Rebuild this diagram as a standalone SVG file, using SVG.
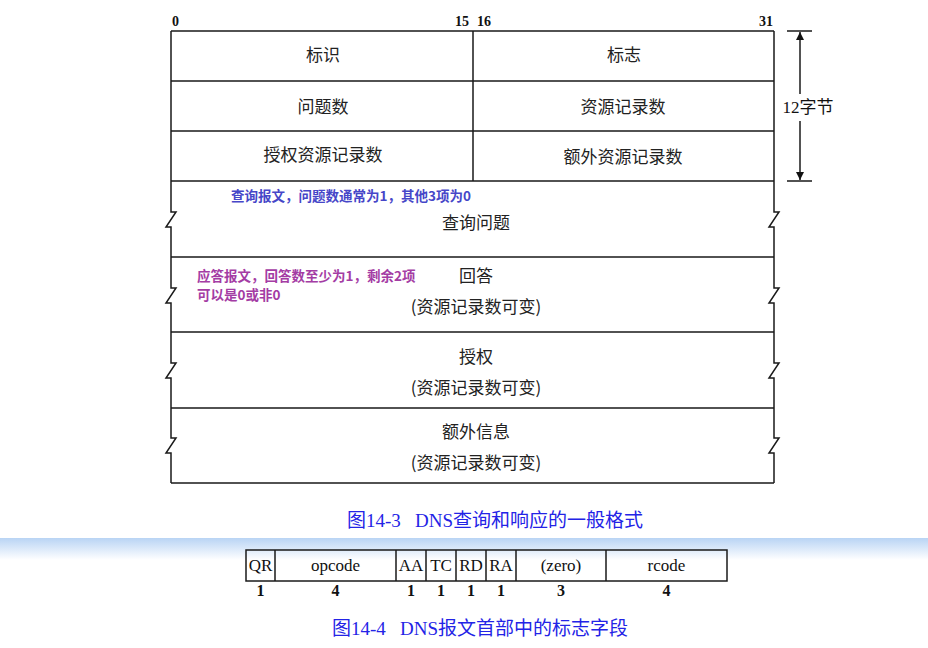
<svg xmlns="http://www.w3.org/2000/svg" width="928" height="648" viewBox="0 0 928 648">
<style>
.ln{stroke:#1a1a1a;stroke-width:1.5;fill:none}
.cn{font-family:"Noto Sans CJK SC","Noto Sans",sans-serif;font-size:17px;fill:#222;text-anchor:middle}
.bit{font-family:"Liberation Serif",serif;font-weight:bold;font-size:14px;fill:#111}
.ann{font-family:"Noto Sans CJK SC",sans-serif;font-weight:bold;font-size:13.5px}
.cap{font-family:"Liberation Serif","Noto Sans CJK SC",serif;font-size:19px;fill:#2323e6;text-anchor:middle;white-space:pre}
.fl{font-family:"Liberation Serif",serif;font-size:17px;fill:#111;text-anchor:middle}
.fn{font-family:"Liberation Serif",serif;font-weight:bold;font-size:16px;fill:#111;text-anchor:middle}
</style>
<defs>
<marker id="ah" viewBox="0 0 10 10" refX="10" refY="5" markerWidth="8" markerHeight="14" markerUnits="userSpaceOnUse" orient="auto">
<path d="M0,0 L10,5 L0,10 z" fill="#111"/>
</marker>
<linearGradient id="band" x1="0" y1="0" x2="0" y2="1">
<stop offset="0" stop-color="#b9d4f4"/>
<stop offset="1" stop-color="#ffffff"/>
</linearGradient>
</defs>
<rect width="928" height="648" fill="#fff"/>
<rect x="0" y="538" width="928" height="22" fill="url(#band)"/>

<g id="bit-labels">
<text class="bit" x="172" y="26">0</text>
<text class="bit" x="469" y="26" text-anchor="end">15</text>
<text class="bit" x="477" y="26">16</text>
<text class="bit" x="773" y="26" text-anchor="end">31</text>
</g>

<g id="frame">
<path class="ln" d="M171,31 H774 M171,81 H774 M171,131 H774 M171,181 H774 M171,257 H774 M171,332 H774 M171,408 H774 M171,483 H774 M473,31 V181"/>
<path class="ln" d="M171,31 V212 h5 l-10,15 h5 V288 h5 l-10,15 h5 V363 h5 l-10,15 h5 V438 h5 l-10,15 h5 V483"/>
<path class="ln" d="M774,31 V212 h5 l-10,15 h5 V288 h5 l-10,15 h5 V363 h5 l-10,15 h5 V438 h5 l-10,15 h5 V483"/>
</g>

<g id="id-field"><text class="cn" x="323" y="61">标识</text></g>
<g id="flags-field"><text class="cn" x="624" y="61">标志</text></g>
<g id="qdcount"><text class="cn" x="323" y="113">问题数</text></g>
<g id="ancount"><text class="cn" x="623" y="113">资源记录数</text></g>
<g id="nscount"><text class="cn" x="323" y="161">授权资源记录数</text></g>
<g id="arcount"><text class="cn" x="623" y="163">额外资源记录数</text></g>

<g id="question">
<text class="ann" x="231" y="201" fill="#4646c8">查询报文，问题数通常为1，其他3项为0</text>
<text class="cn" x="476" y="229">查询问题</text>
</g>
<g id="answer">
<text class="ann" x="197" y="281" fill="#a43ca4" font-size="13">应答报文，回答数至少为1，剩余2项</text>
<text class="ann" x="197" y="300" fill="#a43ca4" font-size="13">可以是0或非0</text>
<text class="cn" x="476" y="282">回答</text>
<text class="cn" x="476" y="313">(资源记录数可变)</text>
</g>
<g id="authority">
<text class="cn" x="476" y="363">授权</text>
<text class="cn" x="476" y="394">(资源记录数可变)</text>
</g>
<g id="additional">
<text class="cn" x="476" y="438">额外信息</text>
<text class="cn" x="476" y="469">(资源记录数可变)</text>
</g>

<g id="size-label">
<path class="ln" d="M787,31 H812 M787,181 H812"/>
<text x="808" y="113" font-family="Liberation Serif,'Noto Sans CJK SC',serif" font-size="17" fill="#111" text-anchor="middle">12字节</text>
</g>
<g id="connectors">
<line class="ln" x1="800" y1="94" x2="800" y2="32" marker-end="url(#ah)"/>
<line class="ln" x1="800" y1="121" x2="800" y2="180" marker-end="url(#ah)"/>
</g>

<g id="caption1"><text class="cap" x="495" y="527" xml:space="preserve">图14-3   DNS查询和响应的一般格式</text></g>

<g id="flag-fields">
<rect class="ln" x="246" y="550" width="481" height="31"/>
<path class="ln" d="M275,550 V581 M396,550 V581 M426,550 V581 M456,550 V581 M486,550 V581 M516,550 V581 M606,550 V581"/>
<text class="fl" x="260.5" y="571">QR</text>
<text class="fl" x="335.5" y="571">opcode</text>
<text class="fl" x="411" y="571">AA</text>
<text class="fl" x="441" y="571">TC</text>
<text class="fl" x="471" y="571">RD</text>
<text class="fl" x="501" y="571">RA</text>
<text class="fl" x="561" y="571">(zero)</text>
<text class="fl" x="666.5" y="571">rcode</text>
<text class="fn" x="260.5" y="596">1</text>
<text class="fn" x="335.5" y="596">4</text>
<text class="fn" x="411" y="596">1</text>
<text class="fn" x="441" y="596">1</text>
<text class="fn" x="471" y="596">1</text>
<text class="fn" x="501" y="596">1</text>
<text class="fn" x="561" y="596">3</text>
<text class="fn" x="666.5" y="596">4</text>
</g>

<g id="caption2"><text class="cap" x="480" y="635" xml:space="preserve">图14-4   DNS报文首部中的标志字段</text></g>
</svg>
